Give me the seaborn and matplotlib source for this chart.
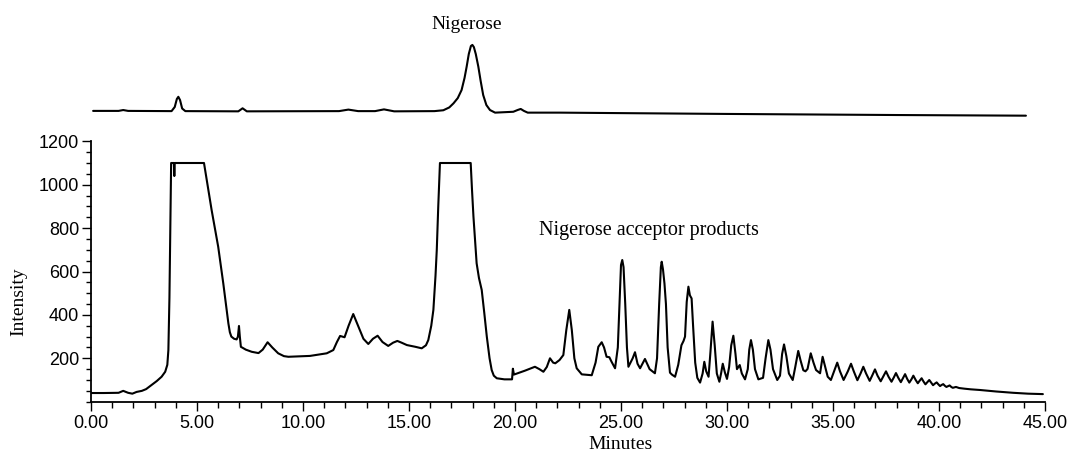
import matplotlib
matplotlib.use("Agg")
import matplotlib.pyplot as plt
from matplotlib.ticker import MultipleLocator, FixedLocator, FixedFormatter
import pandas as pd
import seaborn as sns

# Reaction mixture chromatogram: retention time (min) and detector intensity
sample_time = [
    0.00, 0.60, 1.30, 1.52, 1.75, 1.95, 2.15, 2.40, 2.60, 2.86, 3.10, 3.33, 3.50, 3.60,
    3.65, 3.70, 3.73, 3.76, 3.78, 3.91, 3.93, 3.95, 5.33, 5.69, 6.00, 6.24, 6.40, 6.48,
    6.55, 6.62, 6.75, 6.87, 6.93, 6.98, 7.02, 7.07, 7.30, 7.58, 7.90, 8.10, 8.33, 8.55,
    8.83, 9.10, 9.31, 10.33, 11.12, 11.43, 11.60, 11.75, 11.96, 12.15, 12.37, 12.60,
    12.85, 13.08, 13.30, 13.52, 13.75, 14.02, 14.25, 14.45, 14.65, 14.90, 15.30, 15.60,
    15.80, 15.91, 16.05, 16.15, 16.25, 16.31, 16.38, 16.46, 17.91, 17.97, 18.04, 18.19,
    18.30, 18.43, 18.55, 18.67, 18.80, 18.90, 19.00, 19.14, 19.50, 19.86, 19.90, 19.95,
    20.47, 20.94, 21.15, 21.34, 21.50, 21.65, 21.80, 21.90, 22.10, 22.28, 22.42, 22.56,
    22.68, 22.80, 22.91, 23.15, 23.62, 23.80, 23.93, 24.09, 24.20, 24.32, 24.45, 24.55,
    24.72, 24.85, 24.95, 25.00, 25.06, 25.12, 25.20, 25.28, 25.35, 25.55, 25.66, 25.78,
    25.90, 26.13, 26.35, 26.60, 26.70, 26.80, 26.88, 26.92, 26.98, 27.05, 27.12, 27.20,
    27.31, 27.40, 27.55, 27.70, 27.85, 27.95, 28.02, 28.10, 28.18, 28.25, 28.33, 28.40,
    28.50, 28.60, 28.73, 28.85, 28.93, 29.02, 29.13, 29.22, 29.32, 29.42, 29.52, 29.64,
    29.72, 29.80, 29.90, 30.00, 30.10, 30.20, 30.30, 30.40, 30.47, 30.60, 30.70, 30.85,
    30.98, 31.05, 31.13, 31.22, 31.32, 31.48, 31.70, 31.82, 31.95, 32.05, 32.17, 32.37,
    32.50, 32.60, 32.69, 32.80, 32.92, 33.10, 33.22, 33.36, 33.47, 33.60, 33.70, 33.80,
    33.95, 34.08, 34.20, 34.39, 34.51, 34.63, 34.75, 34.90, 35.05, 35.20, 35.33, 35.50,
    35.70, 35.85, 35.98, 36.15, 36.30, 36.43, 36.56, 36.73, 36.87, 36.98, 37.10, 37.25,
    37.38, 37.50, 37.62, 37.76, 37.87, 37.97, 38.08, 38.20, 38.30, 38.40, 38.50, 38.60,
    38.70, 38.79, 38.90, 39.00, 39.09, 39.18, 39.27, 39.36, 39.45, 39.54, 39.63, 39.72,
    39.80, 39.89, 39.97, 40.05, 40.12, 40.20, 40.28, 40.35, 40.43, 40.50, 40.58, 40.65,
    40.73, 40.80, 40.95, 41.20, 41.50, 41.93, 42.70, 43.50, 44.20, 44.90,
]
sample_intensity = [
    40, 40, 41, 50, 41, 37, 45, 50, 58, 77, 95, 115, 138, 170,
    238, 480, 700, 950, 1100, 1100, 1040, 1100, 1100, 883, 714, 545, 420, 361,
    320, 300, 290, 287, 300, 349, 300, 253, 240, 230, 224, 240, 274, 250,
    223, 210, 207, 211, 223, 238, 275, 303, 297, 350, 404, 350,
    290, 266, 290, 304, 275, 257, 272, 280, 272, 261, 253, 246,
    260, 284, 350, 423, 580, 699, 900, 1100, 1100, 980, 853, 638,
    570, 515, 410, 300, 200, 146, 120, 108, 103, 103, 152, 125,
    143, 161, 150, 138, 160, 200, 180, 177, 192, 215, 330, 423,
    330, 200, 154, 126, 122, 180, 253, 274, 250, 207, 205, 185,
    154, 250, 500, 630, 653, 620, 450, 250, 161, 200, 228, 175,
    154, 197, 150, 131, 200, 450, 620, 645, 610, 545, 450, 250,
    134, 125, 115, 170, 260, 280, 300, 460, 530, 490, 476, 350,
    180, 110, 88, 130, 184, 140, 115, 230, 369, 260, 130, 92,
    130, 175, 135, 105, 160, 260, 304, 220, 150, 169, 130, 103,
    150, 240, 284, 240, 150, 103, 110, 200, 284, 240, 150, 100,
    120, 220, 264, 210, 130, 100, 160, 234, 190, 145, 140, 151,
    223, 180, 146, 131, 207, 160, 115, 100, 140, 180, 140, 100,
    140, 175, 140, 99, 130, 161, 130, 96, 125, 149, 120, 94,
    118, 140, 115, 92, 112, 132, 110, 90, 108, 127, 105, 88,
    103, 120, 100, 85, 97, 108, 93, 80, 90, 100, 88, 76,
    83, 89, 80, 72, 77, 81, 73, 68, 72, 75, 68, 64,
    66, 68, 63, 60, 57, 54, 47, 41, 37, 35,
]

# Nigerose standard run, drawn above the reaction trace
standard_time = [
    0.10, 1.30, 1.52, 1.75, 3.80, 3.95, 4.05, 4.12, 4.20, 4.30, 4.45, 6.95, 7.15, 7.35,
    11.70, 12.14, 12.60, 13.40, 13.82, 14.30, 16.20, 16.62, 16.90, 17.10, 17.30, 17.48,
    17.62, 17.72, 17.82, 17.92, 17.99, 18.06, 18.15, 18.27, 18.38, 18.50, 18.65, 18.82,
    19.06, 19.92, 20.12, 20.27, 20.42, 20.60, 22.10, 30.00, 38.00, 44.10,
]
standard_intensity = [
    88, 88, 92, 88, 87, 106, 143, 153, 138, 99, 87, 86, 100, 86,
    87, 94, 87, 87, 95, 86, 87, 91, 104, 123, 147, 184,
    240, 292, 350, 387, 392, 382, 350, 292, 226, 161, 115, 92,
    80, 84, 92, 97, 88, 80, 80, 74, 69, 66,
]

x_ticks = [0, 5, 10, 15, 20, 25, 30, 35, 40, 45]
x_tick_labels = ["0.00", "5.00", "10.00", "15.00", "20.00", "25.00",
                 "30.00", "35.00", "40.00", "45.00"]
y_ticks = [200, 400, 600, 800, 1000, 1200]
y_tick_labels = ["200", "400", "600", "800", "1000", "1200"]

sns.set_theme(style="white")
plt.rcParams["font.family"] = ["Liberation Sans", "DejaVu Sans"]
serif = ["Liberation Serif", "DejaVu Serif"]

W, H = 1067, 457
fig = plt.figure(figsize=(W / 100, H / 100), dpi=100)
fig.patch.set_facecolor("white")

# main chromatogram axes and the borderless strip above it for the standard
ax = fig.add_axes([91 / W, (H - 401.7) / H, 954 / W, 260.4 / H])
ax_std = fig.add_axes([91 / W, (H - 130) / H, 954 / W, 130 / H], sharex=ax)

sample = pd.DataFrame({"Minutes": sample_time, "Intensity": sample_intensity})
standard = pd.DataFrame({"Minutes": standard_time, "Intensity": standard_intensity})

line_kw = dict(color="black", linewidth=1.5, estimator=None, sort=False,
               solid_joinstyle="round", solid_capstyle="round")
sns.lineplot(data=sample, x="Minutes", y="Intensity", ax=ax, **line_kw)
sns.lineplot(data=standard, x="Minutes", y="Intensity", ax=ax_std, **line_kw)

ax.set_xlim(0, 45)
ax.set_ylim(0, 1200)
ax.set_facecolor("white")
for side in ("top", "right"):
    ax.spines[side].set_visible(False)
for side in ("left", "bottom"):
    ax.spines[side].set_color("black")
    ax.spines[side].set_linewidth(1.3)

ax.xaxis.set_major_locator(FixedLocator(x_ticks))
ax.xaxis.set_major_formatter(FixedFormatter(x_tick_labels))
ax.xaxis.set_minor_locator(MultipleLocator(1))
ax.yaxis.set_major_locator(FixedLocator(y_ticks))
ax.yaxis.set_major_formatter(FixedFormatter(y_tick_labels))
ax.yaxis.set_minor_locator(MultipleLocator(50))

ax.tick_params(axis="both", which="both", direction="out", color="black",
               width=1.0, bottom=True, left=True)
ax.tick_params(axis="x", which="major", length=6.5, labelsize=13, pad=3)
ax.tick_params(axis="x", which="minor", length=4.5)
ax.tick_params(axis="y", which="major", length=6.5, labelsize=13, pad=2)
ax.tick_params(axis="y", which="minor", length=3.5)
for lbl in ax.get_xticklabels() + ax.get_yticklabels():
    lbl.set_color("black")

ax.set_xlabel("Minutes", fontsize=14, family=serif, color="black")
ax.xaxis.set_label_coords((621 - 91) / 954, (401.7 - 436) / 260.4)
ax.set_ylabel("Intensity", fontsize=14, family=serif, color="black")
ax.yaxis.set_label_coords((27 - 91) / 954, (401.7 - 302) / 260.4)

ax.text(26.3, 790, "Nigerose acceptor products", ha="center", va="center",
        fontsize=14.5, family=serif, color="black")

ax_std.set_ylim(0, 599)
ax_std.axis("off")
ax_std.text(17.72, 484, "Nigerose", ha="center", va="center",
            fontsize=14, family=serif, color="black")

fig.savefig("out.png", dpi=100, facecolor="white")
